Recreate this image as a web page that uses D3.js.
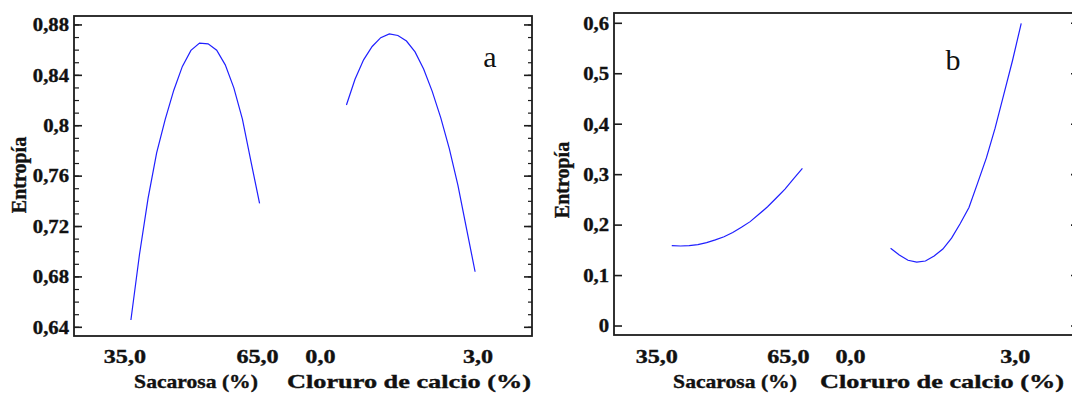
<!DOCTYPE html>
<html>
<head>
<meta charset="utf-8">
<script src="https://cdn.jsdelivr.net/npm/d3@7"></script>
<style>
  html, body { margin: 0; padding: 0; background: #fff; overflow: hidden; }
  svg { display: block; }
  text { font-family: "Liberation Serif", "Times New Roman", serif; fill: #111; }
  text.bold { font-weight: bold; stroke: #111; stroke-width: 0.35px; }
</style>
</head>
<body>
<script>
// Factor names and their level labels on the shared x axis
const factors = ["Sacarosa (%)", "Cloruro de calcio (%)"];
const factorTickLabels = [["35,0", "65,0"], ["0,0", "3,0"]];

// Factor levels at which the fitted response is drawn
const sacarosaLevels = [35, 37, 39, 41, 43, 45, 47, 49, 51, 53, 55, 57, 59, 61, 63, 65];
const cloruroLevels = [0, 0.2, 0.4, 0.6, 0.8, 1.0, 1.2, 1.4, 1.6, 1.8, 2.0, 2.2, 2.4, 2.6, 2.8, 3.0];

// Panel a: entropy vs each factor
const entropiaA_sacarosa = [0.6458, 0.6978, 0.7424, 0.7785, 0.8050, 0.8282, 0.8471, 0.8598,
                            0.8656, 0.8650, 0.8600, 0.8483, 0.8301, 0.8052, 0.7715, 0.7384];
const entropiaA_cloruro = [0.8165, 0.8369, 0.8523, 0.8629, 0.8699, 0.8729, 0.8716, 0.8672,
                           0.8586, 0.8451, 0.8273, 0.8062, 0.7816, 0.7526, 0.7184, 0.6841];

// Panel b: entropy vs each factor
const entropiaB_sacarosa = [0.1592, 0.1586, 0.1594, 0.1613, 0.1653, 0.1707, 0.1768, 0.1853,
                            0.1956, 0.2069, 0.2214, 0.2363, 0.2537, 0.2714, 0.2922, 0.3126];
const entropiaB_cloruro = [0.1540, 0.1407, 0.1304, 0.1265, 0.1288, 0.1388, 0.1526, 0.1742,
                           0.2032, 0.2349, 0.2838, 0.3332, 0.3921, 0.4593, 0.5263, 0.6000];

// Y axis tick values
const yTicksA = [0.64, 0.68, 0.72, 0.76, 0.80, 0.84, 0.88];
const yTicksB = [0, 0.1, 0.2, 0.3, 0.4, 0.5, 0.6];

const yLabel = "Entropía";
const panelLetters = ["a", "b"];

const comma = d3.formatLocale({ decimal: ",", thousands: ".", grouping: [3], currency: ["", ""] });

const W = 1072, H = 401;
const svg = d3.select("body").append("svg").attr("width", W).attr("height", H);

// horizontal stretch of each axis title
const titleStretch = [1.2, 1.46];

const panels = [
  {
    letter: panelLetters[0],
    x0: 74, x1: 532, yTop: 16, yBot: 336,
    yDomain: [0.6331, 0.8871],
    yTicks: yTicksA, yFmt: comma.format(".2~f"), minorStep: 0.01,
    series: [
      { levels: sacarosaLevels, values: entropiaA_sacarosa },
      { levels: cloruroLevels, values: entropiaA_cloruro }
    ],
    tickNudge: [[-6, -2], [-26, 3]],
    titleX: [196, 409],
    labelX: 19, labelY: 175,
    letterPos: [490, 67]
  },
  {
    letter: panelLetters[1],
    x0: 614, x1: 1079, yTop: 13, yBot: 335,
    yDomain: [-0.0178, 0.6204],
    yTicks: yTicksB, yFmt: comma.format(".1~f"), minorStep: null,
    series: [
      { levels: sacarosaLevels, values: entropiaB_sacarosa },
      { levels: cloruroLevels, values: entropiaB_cloruro }
    ],
    tickNudge: [[-15, -14], [-40, -6]],
    titleX: [735, 942],
    labelX: 562, labelY: 180,
    letterPos: [953, 70]
  }
];

const frameColor = "#1c1c1c";

panels.forEach(p => {
  const g = svg.append("g");

  const y = d3.scaleLinear().domain(p.yDomain).range([p.yBot, p.yTop]);

  // one horizontal slot per factor on the shared x axis
  const band = d3.scaleBand().domain(factors).range([p.x0, p.x1])
    .paddingInner(0.403).paddingOuter(0.264);

  const xFor = (i, levels) => d3.scaleLinear()
    .domain([levels[0], levels[levels.length - 1]])
    .range([band(factors[i]), band(factors[i]) + band.bandwidth()]);

  // minor ticks
  if (p.minorStep) {
    const minors = y.ticks(Math.round((p.yDomain[1] - p.yDomain[0]) / p.minorStep));
    g.selectAll(".minorL").data(minors).join("line")
      .attr("x1", p.x0).attr("x2", p.x0 + 5)
      .attr("y1", d => y(d)).attr("y2", d => y(d))
      .attr("stroke", frameColor).attr("stroke-width", 1.2);
    g.selectAll(".minorR").data(minors).join("line")
      .attr("x1", p.x1).attr("x2", p.x1 - 4)
      .attr("y1", d => y(d)).attr("y2", d => y(d))
      .attr("stroke", frameColor).attr("stroke-width", 1.2);
  }

  // major ticks (pointing into the plot on both sides)
  g.selectAll(".majorL").data(p.yTicks).join("line")
    .attr("x1", p.x0).attr("x2", p.x0 + 8)
    .attr("y1", d => y(d)).attr("y2", d => y(d))
    .attr("stroke", frameColor).attr("stroke-width", 1.6);
  g.selectAll(".majorR").data(p.yTicks).join("line")
    .attr("x1", p.x1).attr("x2", p.x1 - 8)
    .attr("y1", d => y(d)).attr("y2", d => y(d))
    .attr("stroke", frameColor).attr("stroke-width", 1.6);

  // frame
  g.append("rect")
    .attr("x", p.x0).attr("y", p.yTop)
    .attr("width", p.x1 - p.x0).attr("height", p.yBot - p.yTop)
    .attr("fill", "none").attr("stroke", frameColor).attr("stroke-width", 1.8);

  // y tick labels
  g.selectAll(".ylab").data(p.yTicks).join("text")
    .attr("class", "bold")
    .attr("transform", d => `translate(${p.x0 - 5},${y(d)}) scale(1.15,1)`)
    .attr("text-anchor", "end").attr("dy", "0.35em")
    .attr("font-size", 18)
    .text(d => p.yFmt(d));

  // y axis title
  g.append("text")
    .attr("class", "bold")
    .attr("transform", `translate(${p.labelX},${p.labelY}) rotate(-90)`)
    .attr("text-anchor", "middle").attr("dy", "0.35em")
    .attr("font-size", 20)
    .text(yLabel);

  // response curves
  p.series.forEach((s, i) => {
    const x = xFor(i, s.levels);
    const pts = s.levels.map((lv, k) => [lv, s.values[k]]);
    g.append("path")
      .datum(pts)
      .attr("d", d3.line().x(d => x(d[0])).y(d => y(d[1])))
      .attr("fill", "none").attr("stroke", "#1f1fff").attr("stroke-width", 1.2);

    // factor level labels
    const ends = [s.levels[0], s.levels[s.levels.length - 1]];
    ends.forEach((lv, k) => {
      g.append("text")
        .attr("class", "bold")
        .attr("transform", `translate(${x(lv) + p.tickNudge[i][k]},363) scale(1.34,1)`)
        .attr("text-anchor", "middle")
        .attr("font-size", 18)
        .text(factorTickLabels[i][k]);
    });

    // factor title
    g.append("text")
      .attr("class", "bold")
      .attr("transform", `translate(${p.titleX[i]},388) scale(${titleStretch[i]},1)`)
      .attr("text-anchor", "middle")
      .attr("font-size", 18)
      .text(factors[i]);
  });

  // panel letter
  g.append("text")
    .attr("x", p.letterPos[0]).attr("y", p.letterPos[1])
    .attr("text-anchor", "middle")
    .attr("font-size", 30)
    .text(p.letter);
});
</script>
</body>
</html>
